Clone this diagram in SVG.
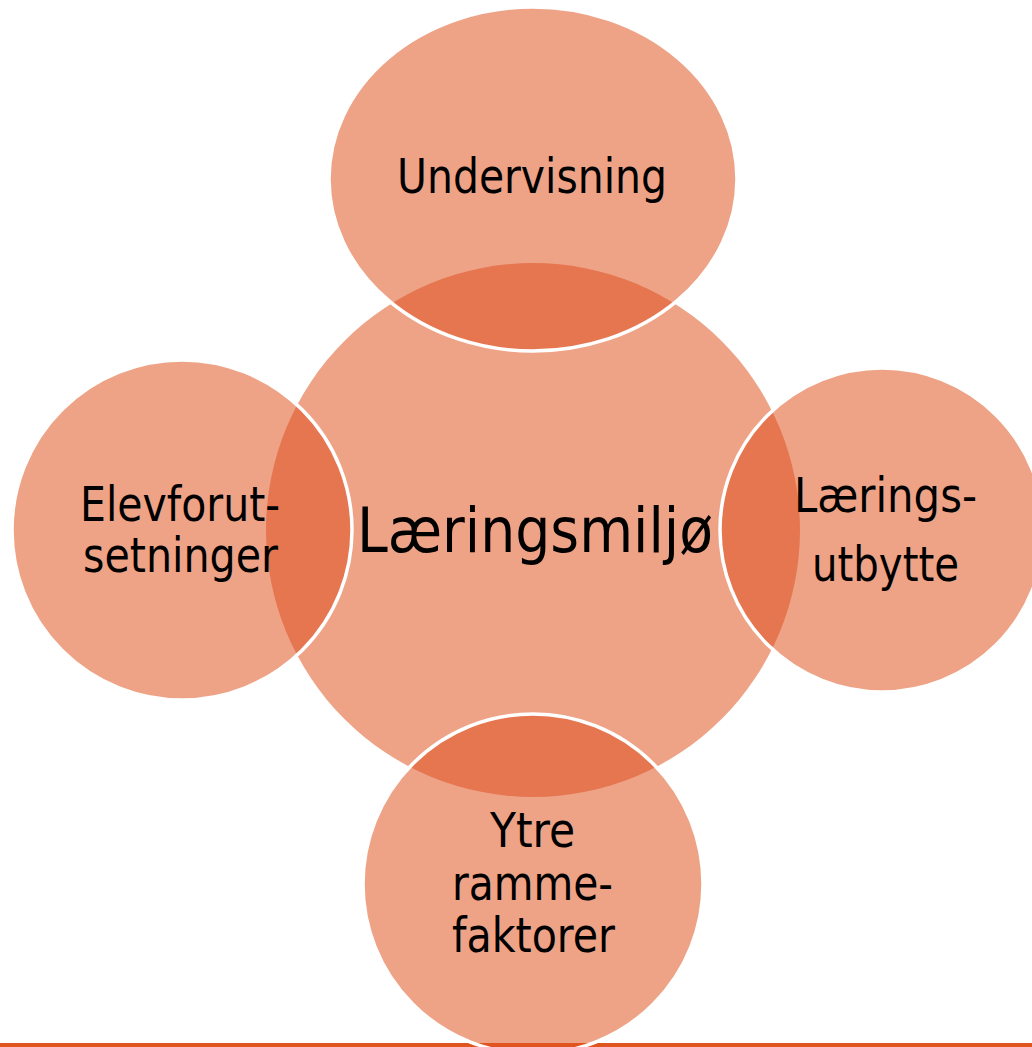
<svg xmlns="http://www.w3.org/2000/svg" width="1032" height="1047" viewBox="0 0 1032 1047">
<defs>
<style>
.light{fill:#EEA387;}
.dark{fill:#E57650;}
.ring{fill:none;stroke:#FFFFFF;stroke-width:3.5;}
.t{font-family:"DejaVu Sans Condensed","DejaVu Sans",sans-serif;fill:#000000;}
.s48{font-size:48px;}
.s63{font-size:63px;}
</style>
<clipPath id="cpTop"><ellipse cx="533" cy="179" rx="204" ry="172"/></clipPath>
<clipPath id="cpLeft"><circle cx="182" cy="530" r="170"/></clipPath>
<clipPath id="cpRight"><circle cx="882" cy="530" r="162"/></clipPath>
<clipPath id="cpBottom"><circle cx="533" cy="884" r="170"/></clipPath>
</defs>
<rect x="0" y="0" width="1032" height="1047" fill="#FFFFFF"/>
<rect x="0" y="1043" width="1032" height="4" fill="#E0541F"/>
<g id="node-center">
<circle class="light" cx="533" cy="530" r="267"/>
</g>
<g id="node-top">
<ellipse class="light" cx="533" cy="179" rx="204" ry="172"/>
</g>
<g id="node-left">
<circle class="light" cx="182" cy="530" r="170"/>
</g>
<g id="node-right">
<circle class="light" cx="882" cy="530" r="162"/>
</g>
<g id="node-bottom">
<circle class="light" cx="533" cy="884" r="170"/>
<rect x="0" y="1043" width="1032" height="4" fill="#E0541F" clip-path="url(#cpBottom)"/>
</g>
<g id="overlaps">
<circle class="dark" cx="533" cy="530" r="267" clip-path="url(#cpTop)"/>
<circle class="dark" cx="533" cy="530" r="267" clip-path="url(#cpLeft)"/>
<circle class="dark" cx="533" cy="530" r="267" clip-path="url(#cpRight)"/>
<circle class="dark" cx="533" cy="530" r="267" clip-path="url(#cpBottom)"/>
</g>
<g id="outlines">
<ellipse class="ring" cx="533" cy="179" rx="204" ry="172"/>
<circle class="ring" cx="182" cy="530" r="170"/>
<circle class="ring" cx="882" cy="530" r="162"/>
<circle class="ring" cx="533" cy="884" r="170"/>
</g>
<g id="connectors"></g>
<g id="labels">
<text class="t s48" x="397" y="193" textLength="270" lengthAdjust="spacingAndGlyphs">Undervisning</text>
<text class="t s63" x="357" y="552" textLength="356" lengthAdjust="spacingAndGlyphs">Læringsmiljø</text>
<text class="t s48" x="80" y="521" textLength="200" lengthAdjust="spacingAndGlyphs">Elevforut-</text>
<text class="t s48" x="83" y="572" textLength="195" lengthAdjust="spacingAndGlyphs">setninger</text>
<text class="t s48" x="794" y="512" textLength="183" lengthAdjust="spacingAndGlyphs">Lærings-</text>
<text class="t s48" x="812" y="581" textLength="147" lengthAdjust="spacingAndGlyphs">utbytte</text>
<text class="t s48" x="490" y="847" textLength="85" lengthAdjust="spacingAndGlyphs">Ytre</text>
<text class="t s48" x="452" y="900" textLength="161" lengthAdjust="spacingAndGlyphs">ramme-</text>
<text class="t s48" x="452" y="952" textLength="163" lengthAdjust="spacingAndGlyphs">faktorer</text>
</g>
</svg>
